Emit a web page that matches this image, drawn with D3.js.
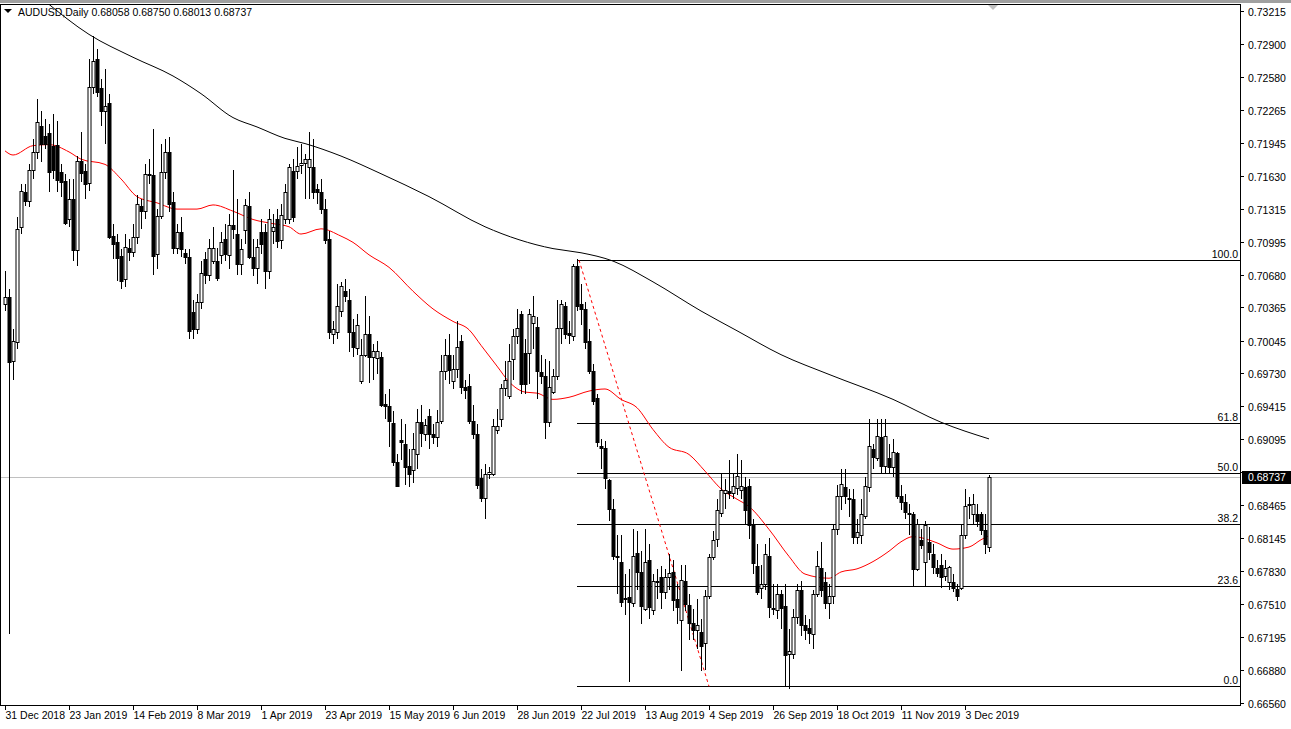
<!DOCTYPE html>
<html><head><meta charset="utf-8">
<script src="https://cdn.jsdelivr.net/npm/d3@7"></script>
<style>body{margin:0;background:#fff}svg{display:block}text{font-family:"Liberation Sans",Arial,sans-serif;font-size:10.5px}</style>
</head><body><svg id="c" width="1291" height="729"></svg>
<script>
// prices in pips (price*10000)
const open=[7040,7046,6985,7003,7114,7147,7139,7169,7186,7211,7201,7204,7192,7193,7167,7158,7121,7141,7092,7177,7168,7156,7248,7275,7247,7225,7233,7105,7099,7086,7064,7094,7090,7104,7134,7129,7165,7164,7088,7124,7167,7186,7138,7094,7109,7089,7085,7032,7016,7042,7083,7068,7081,7081,7087,7102,7087,7116,7107,7078,7111,7134,7085,7074,7109,7109,7071,7110,7121,7101,7121,7121,7168,7168,7173,7175,7171,7171,7150,7147,7131,7102,7011,7013,7033,7052,7044,7013,6997,6966,6991,7011,6989,6988,6989,6944,6942,6925,6888,6909,6905,6884,6880,6895,6926,6915,6932,6915,6912,6927,6975,6991,6966,6977,7004,6960,6961,6927,6915,6872,6853,6876,6876,6919,6929,6959,6951,6987,7009,7030,6993,6993,7021,7018,6974,6970,6926,6955,6970,7017,7038,7012,7009,7076,7040,7035,7004,6975,6949,6903,6901,6870,6843,6797,6792,6757,6758,6752,6800,6782,6746,6794,6745,6772,6777,6763,6777,6782,6756,6736,6773,6750,6733,6726,6724,6714,6759,6796,6814,6839,6858,6860,6858,6863,6861,6864,6865,6827,6788,6767,6770,6797,6747,6745,6761,6749,6703,6703,6739,6765,6731,6728,6722,6761,6786,6772,6752,6759,6823,6855,6864,6853,6852,6816,6818,6836,6864,6900,6892,6912,6884,6892,6883,6896,6855,6849,6839,6838,6785,6813,6792,6811,6799,6786,6789,6778,6772,6772,6766,6767,6818,6846,6838,6838,6838,6822,6805.8];
const high=[7071,7054,7016,7123,7155,7155,7174,7198,7237,7225,7218,7213,7222,7216,7174,7165,7160,7160,7182,7205,7174,7275,7297,7285,7256,7266,7242,7117,7107,7093,7107,7102,7117,7145,7141,7174,7179,7208,7131,7194,7198,7200,7147,7117,7123,7093,7093,7044,7049,7081,7090,7102,7114,7094,7109,7117,7126,7169,7141,7102,7141,7147,7102,7102,7121,7117,7131,7126,7131,7136,7155,7174,7179,7191,7194,7184,7205,7198,7155,7160,7141,7110,7023,7059,7061,7064,7054,7025,7030,7006,7047,7028,7001,7004,6994,6953,6958,6937,6895,6929,6924,6900,6916,6939,6943,6929,6939,6924,6938,6991,7006,7011,6991,7023,7010,6967,6972,6943,6924,6881,6886,6883,6929,6939,6963,6985,7001,7016,7035,7033,7006,7035,7047,7027,6991,6987,6985,6977,7044,7044,7042,7023,7078,7083,7059,7042,7016,6982,6953,6910,6908,6871,6852,6818,6818,6780,6785,6823,6821,6802,6823,6809,6780,6785,6788,6785,6799,6794,6770,6789,6789,6761,6746,6756,6737,6765,6799,6821,6852,6876,6871,6890,6876,6895,6890,6873,6871,6833,6809,6789,6809,6815,6770,6770,6765,6770,6727,6746,6770,6773,6741,6737,6765,6802,6811,6782,6770,6828,6866,6881,6881,6862,6862,6833,6852,6873,6929,6905,6929,6929,6929,6905,6910,6897,6866,6857,6847,6840,6833,6823,6831,6825,6809,6794,6799,6794,6788,6780,6770,6828,6862,6854,6857,6847,6840,6838,6875.0];
const low=[7033,6722,6967,6996,7107,7134,7133,7160,7179,7176,7189,7147,7160,7147,7143,7116,7114,7081,7076,7157,7141,7148,7242,7239,7211,7194,7102,7083,7062,7054,7056,7081,7085,7097,7112,7121,7155,7068,7073,7121,7160,7128,7088,7088,7085,7078,7006,7006,7011,7035,7059,7062,7078,7062,7078,7081,7073,7102,7068,7068,7097,7083,7067,7059,7088,7054,7064,7097,7094,7093,7117,7117,7119,7160,7165,7141,7141,7141,7136,7126,7097,7006,7001,7006,7027,7042,6994,6989,6991,6963,6989,6964,6967,6972,6941,6929,6902,6884,6864,6890,6866,6864,6868,6881,6902,6908,6900,6905,6902,6924,6967,6963,6958,6969,6953,6948,6924,6910,6862,6849,6833,6871,6874,6915,6921,6951,6948,6967,7001,6953,6953,6963,6996,6948,6963,6910,6921,6953,6967,7001,7006,7001,7004,7033,7020,6996,6972,6943,6902,6881,6862,6831,6794,6761,6748,6741,6676,6748,6765,6732,6744,6737,6741,6756,6746,6756,6765,6744,6732,6687,6744,6717,6717,6708,6687,6688,6756,6794,6806,6835,6843,6852,6852,6856,6852,6827,6814,6780,6760,6756,6765,6738,6741,6737,6727,6672,6669,6698,6732,6720,6717,6713,6708,6758,6758,6746,6737,6751,6818,6842,6847,6835,6809,6809,6809,6833,6859,6881,6889,6876,6876,6876,6873,6852,6842,6833,6818,6769,6783,6804,6769,6794,6780,6777,6767,6773,6765,6763,6754,6765,6814,6833,6828,6825,6818,6799,6801.3];
const close=[7046,6984,7004,7112,7148,7139,7169,7186,7215,7194,7194,7167,7169,7159,7157,7118,7141,7092,7177,7166,7155,7248,7273,7244,7225,7230,7104,7097,7084,7062,7095,7090,7104,7136,7129,7165,7164,7086,7124,7167,7186,7136,7094,7109,7093,7085,7014,7016,7042,7070,7068,7094,7094,7065,7099,7088,7116,7112,7078,7093,7135,7085,7074,7095,7097,7071,7121,7114,7100,7125,7147,7171,7123,7172,7175,7179,7179,7147,7147,7131,7101,7013,7016,7038,7057,7047,7013,6998,7020,6991,7011,6989,6995,6995,6943,6942,6927,6888,6865,6907,6883,6876,6900,6926,6916,6923,6915,6912,6926,6975,6991,6976,6977,6998,6960,6957,6927,6915,6866,6853,6876,6878,6922,6922,6959,6967,6985,7009,7017,6963,6963,7030,7028,6975,6970,6926,6960,6970,7017,7040,7011,7010,7076,7038,7035,7003,6975,6946,6907,6901,6872,6843,6797,6796,6753,6756,6753,6797,6782,6749,6792,6748,6773,6773,6763,6777,6781,6755,6748,6774,6751,6733,6726,6731,6711,6759,6796,6813,6842,6861,6861,6858,6865,6874,6865,6842,6827,6791,6763,6770,6799,6748,6746,6761,6747,6702,6706,6739,6765,6731,6726,6723,6761,6788,6765,6752,6759,6823,6855,6867,6855,6852,6816,6820,6838,6865,6903,6893,6913,6884,6913,6883,6897,6855,6849,6840,6838,6785,6828,6808,6827,6801,6787,6781,6777,6786,6787,6767,6759,6818,6845,6847,6847,6831,6822,6809,6873.7];
// moving averages: [bar index, pips]
const ma200=[[10,7331],[21,7299],[32,7277],[42,7259],[49,7242],[57,7219],[63,7210],[70,7199],[75,7194],[84,7182],[94,7165],[106,7143],[120,7114],[137,7093],[144,7089],[152,7081],[162,7061],[174,7033],[183,7014],[194,6991],[206,6972],[222,6948],[234,6926],[246,6910]];
const ma50=[[0,7187],[2,7183],[7,7192],[11,7193],[16,7186],[19,7179],[25,7174],[29,7160],[33,7143],[38,7137],[43,7131],[48,7131],[52,7135],[57,7129],[62,7121],[67,7117],[71,7114],[74,7107],[79,7112],[84,7105],[87,7099],[91,7087],[96,7075],[102,7052],[107,7035],[112,7023],[116,7015],[119,7000],[123,6980],[126,6965],[130,6955],[133,6954],[137,6948],[141,6950],[146,6956],[150,6958],[154,6948],[158,6940],[162,6919],[166,6902],[171,6895],[175,6879],[179,6862],[183,6852],[186,6845],[191,6823],[196,6797],[200,6780],[206,6776],[209,6782],[213,6785],[217,6792],[221,6802],[224,6811],[227,6816],[229,6815],[233,6810],[237,6804],[241,6806],[244,6813],[246,6817]];
const fibLevels=[0,23.6,38.2,50,61.8,100];
const fibLow=0.6672, fibHigh=0.7082, fibStart=143, trendEnd=176;
const yTicks=[0.73215,0.72900,0.72580,0.72265,0.71945,0.71630,0.71315,0.70995,0.70680,0.70365,0.70045,0.69730,0.69415,0.69095,0.68780,0.68465,0.68145,0.67830,0.67510,0.67195,0.66880,0.66560];
const dateLabels=["31 Dec 2018","23 Jan 2019","14 Feb 2019","8 Mar 2019","1 Apr 2019","23 Apr 2019","15 May 2019","6 Jun 2019","28 Jun 2019","22 Jul 2019","13 Aug 2019","4 Sep 2019","26 Sep 2019","18 Oct 2019","11 Nov 2019","3 Dec 2019"];
const title="AUDUSD,Daily  0.68058 0.68750 0.68013 0.68737";

const svg=d3.select("#c");
const x=d3.scaleLinear().domain([0,246]).range([5,989]);
const y=d3.scaleLinear().domain([0.73215,0.66560]).range([11,703]);
const P=v=>v/10000;
svg.append("rect").attr("x",0).attr("y",0).attr("width",1291).attr("height",3).attr("fill","#a0a0a0");
svg.append("defs").append("clipPath").attr("id","cl").append("rect").attr("x",1).attr("y",4).attr("width",1239).attr("height",701);
const g=svg.append("g").attr("clip-path","url(#cl)");
const last=P(close[close.length-1]);
g.append("line").attr("x1",0).attr("x2",1240).attr("y1",Math.round(y(last))+0.5).attr("y2",Math.round(y(last))+0.5).attr("stroke","#c0c0c0");
fibLevels.forEach(l=>{const p=fibLow+(fibHigh-fibLow)*l/100;const yy=Math.round(y(p))+0.5;
 g.append("line").attr("x1",x(fibStart)).attr("x2",1240).attr("y1",yy).attr("y2",yy).attr("stroke","#000");
 g.append("text").attr("x",1238).attr("y",yy-3).attr("text-anchor","end").text(l.toFixed(1));});
g.append("line").attr("x1",x(fibStart)+2).attr("y1",y(fibHigh)).attr("x2",x(trendEnd)).attr("y2",y(fibLow)).attr("stroke","#f00").attr("stroke-dasharray","3,3");
const ln=d3.line().x(d=>x(d[0])).y(d=>y(P(d[1]))).curve(d3.curveMonotoneX);
g.append("path").attr("d",ln(ma200)).attr("fill","none").attr("stroke","#000");
g.append("path").attr("d",ln(ma50)).attr("fill","none").attr("stroke","#f00");
const cg=g.append("g");
open.forEach((o,i)=>{const cx=Math.round(x(i))+0.5;
 cg.append("line").attr("x1",cx).attr("x2",cx).attr("y1",Math.round(y(P(high[i])))).attr("y2",Math.round(y(P(low[i])))).attr("stroke","#000");
 const t=Math.round(y(P(Math.max(o,close[i])))),b=Math.round(y(P(Math.min(o,close[i]))));
 const bull=close[i]>=o;
 cg.append("rect").attr("x",cx-1.5).attr("y",t+0.5).attr("width",3).attr("height",Math.max(b-t,0.01)).attr("fill",bull?"#fff":"#000").attr("stroke","#000");
});
svg.append("rect").attr("x",0.5).attr("y",4.5).attr("width",1240).attr("height",701).attr("fill","none").attr("stroke","#000");
const ly=Math.round(y(last));
yTicks.forEach(t=>{const yy=Math.round(y(t))+0.5;
 svg.append("line").attr("x1",1240).attr("x2",1244).attr("y1",yy).attr("y2",yy).attr("stroke","#000");
 if(Math.abs(yy-ly)>12) svg.append("text").attr("x",1248).attr("y",yy+4).text(t.toFixed(5));});
svg.append("rect").attr("x",1242).attr("y",ly-6).attr("width",49).attr("height",13).attr("fill","#000");
svg.append("text").attr("x",1248).attr("y",ly+4).attr("fill","#fff").text(last.toFixed(5));
dateLabels.forEach((d,k)=>{const xx=Math.round(x(k*16))+0.5;
 svg.append("line").attr("x1",xx).attr("x2",xx).attr("y1",705).attr("y2",710).attr("stroke","#000");
 svg.append("text").attr("x",xx).attr("y",719).text(d);});
svg.append("path").attr("d","M4,9 L12,9 L8,13 Z").attr("fill","#000");
svg.append("text").attr("x",18).attr("y",16).text(title);
svg.append("path").attr("d","M988,5 L998,5 L993,10 Z").attr("fill","#c0c0c0");
</script></body></html>
